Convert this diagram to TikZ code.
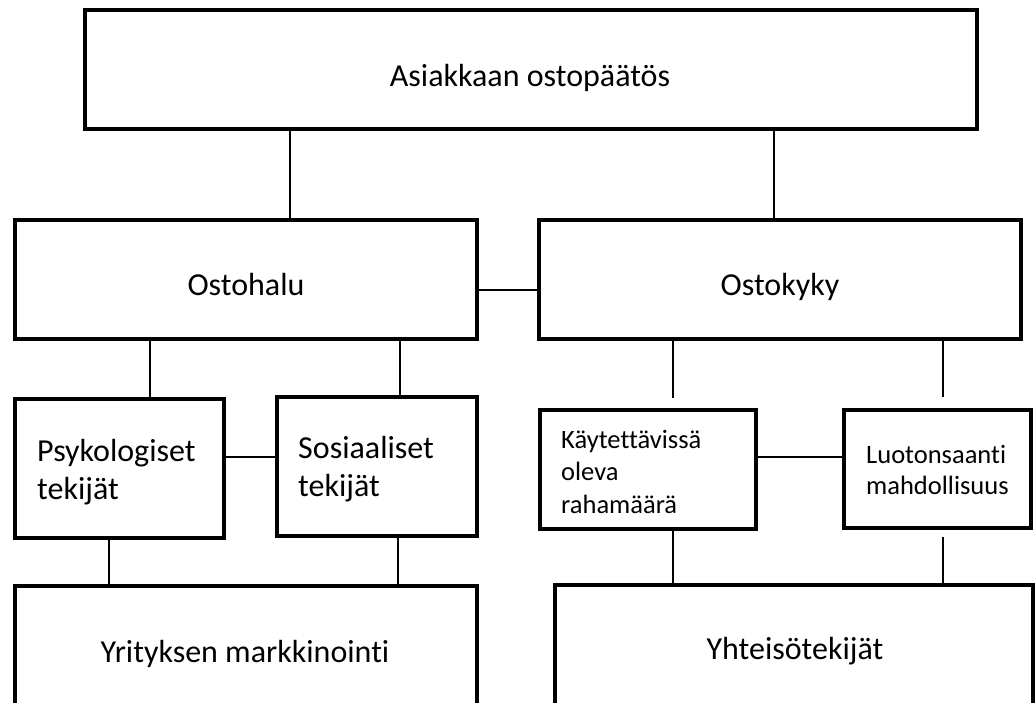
\documentclass[tikz,border=0pt]{standalone}
\usepackage{fontspec}
\setmainfont{Carlito}[Ligatures={NoCommon}]
\begin{document}
\begin{tikzpicture}[x=1pt,y=-1pt,
  box/.style={draw=black, line width=4.5pt, rectangle, inner sep=0pt, outer sep=0pt, fill=white},
  conn/.style={draw=black, line width=1.5pt},
  big/.style={font=\fontsize{32}{39}\selectfont, inner sep=0pt},
  small/.style={font=\fontsize{26.5}{32}\selectfont, inner sep=0pt}]
\useasboundingbox (0,0) rectangle (1036,702);
\clip (0,0) rectangle (1036,702);
% boxes
\node[box, minimum width=892pt, minimum height=119pt] (top) at (531,69.5) {};
\node[box, minimum width=462pt, minimum height=119pt] (hal) at (246,279.5) {};
\node[box, minimum width=482pt, minimum height=119pt] (kyk) at (780,279.5) {};
\node[box, minimum width=209pt, minimum height=139pt] (psy) at (119.5,468.5) {};
\node[box, minimum width=200pt, minimum height=139pt] (sos) at (377,466.5) {};
\node[box, minimum width=216pt, minimum height=119pt] (kay) at (648,469.5) {};
\node[box, minimum width=187pt, minimum height=118pt] (luo) at (937.5,469) {};
\node[box, minimum width=462pt, minimum height=150pt] (yri) at (246,661) {};
\node[box, minimum width=478pt, minimum height=150pt] (yht) at (794,660) {};
% helper coordinates for connector lines
\coordinate (v1) at (290,0);
\coordinate (v2) at (774,0);
\coordinate (v3) at (150,0);
\coordinate (v4) at (400,0);
\coordinate (v5) at (109,0);
\coordinate (v6) at (398,0);
\coordinate (v7) at (673,0);
\coordinate (v8) at (943,0);
\coordinate (h1) at (0,290);
\coordinate (h2) at (0,457);
% connectors
\draw[conn] (v1 |- top.south) -- (v1 |- hal.north);
\draw[conn] (v2 |- top.south) -- (v2 |- kyk.north);
\draw[conn] (hal.east |- h1) -- (kyk.west |- h1);
\draw[conn] (v3 |- hal.south) -- (v3 |- psy.north);
\draw[conn] (v4 |- hal.south) -- (v4 |- sos.north);
\draw[conn] (psy.east |- h2) -- (sos.west |- h2);
\draw[conn] (v5 |- psy.south) -- (v5 |- yri.north);
\draw[conn] (v6 |- sos.south) -- (v6 |- yri.north);
\draw[conn, shorten >=12pt] (v7 |- kyk.south) -- (v7 |- kay.north);
\draw[conn, shorten >=13pt] (v8 |- kyk.south) -- (v8 |- luo.north);
\draw[conn] (kay.east |- h2) -- (luo.west |- h2);
\draw[conn] (v7 |- kay.south) -- (v7 |- yht.north);
\draw[conn, shorten <=9pt] (v8 |- luo.south) -- (v8 |- yht.north);
% texts
\node[big, anchor=base] (tTop) at (530,86) {Asiakkaan ostopäätös};
\node[big, anchor=base] (tHal) at (246,295) {Ostohalu};
\node[big, anchor=base] (tKyk) at (780,295) {Ostokyky};
\node[big, anchor=base west] (tPsy1) at (37,461) {Psykologiset};
\node[big, anchor=base west] (tPsy2) at (37,499) {tekijät};
\node[big, anchor=base west] (tSos1) at (298,458) {Sosiaaliset};
\node[big, anchor=base west] (tSos2) at (298,496) {tekijät};
\node[small, anchor=base west] (tKay1) at (561,448) {Käytettävissä};
\node[small, anchor=base west] (tKay2) at (561,480.5) {oleva};
\node[small, anchor=base west] (tKay3) at (561,513) {rahamäärä};
\node[small, anchor=base west] (tLuo1) at (866,463) {Luotonsaanti};
\node[small, anchor=base west] (tLuo2) at (866,494) {mahdollisuus};
\node[big, anchor=base] (tYri) at (245,662) {Yrityksen markkinointi};
\node[big, anchor=base] (tYht) at (795,659) {Yhteisötekijät};
\end{tikzpicture}
\end{document}
